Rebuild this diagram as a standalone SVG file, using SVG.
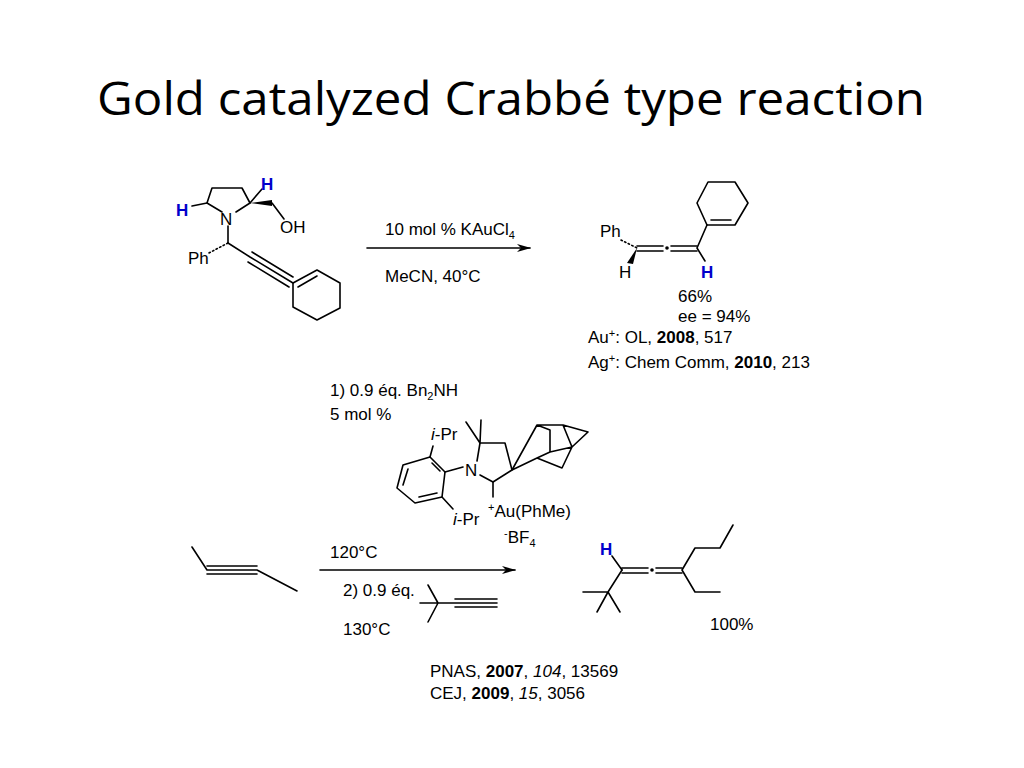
<svg xmlns="http://www.w3.org/2000/svg" width="1024" height="768" viewBox="0 0 1024 768">
<style>
text{font-family:"Liberation Sans",Arial,sans-serif;font-size:17px;fill:#000}
.t{font-family:"Open Sans","Liberation Sans",sans-serif;font-size:46px}
.b{stroke:#000;stroke-width:1.6;fill:none;stroke-linecap:round;stroke-linejoin:round}
.h{fill:#0000cc;font-weight:bold}
.s{font-size:11px}
</style>
<defs>
<marker id="ar" markerWidth="14" markerHeight="10" refX="13" refY="5" orient="auto" markerUnits="userSpaceOnUse"><path d="M0,1 L14,5 L0,9 L4,5 Z" fill="#000"/></marker>
</defs>
<rect width="1024" height="768" fill="#fff"/>
<text class="t" x="511" y="115" text-anchor="middle" textLength="828" lengthAdjust="spacingAndGlyphs">Gold catalyzed Crabbé type reaction</text>

<g id="sm1">
<path class="b" d="M222,212 L207,203 L212,188 L242,188 L250,203 L236,212"/>
<path class="b" d="M207,203 L192,206"/>
<path class="b" d="M250,203 L262,189"/>
<path d="M250,203 L272,200 L272,206 Z" fill="#000"/>
<path class="b" d="M272,203 L284,219"/>
<path class="b" d="M228,226 L228,243"/>
<path class="b" d="M228,243 L207,254" stroke-dasharray="1.5,2.5" stroke-width="3"/>
<path class="b" d="M228,243 L250,257 L293,283 M252,252 L293,277 M248,262 L289,287"/>
<path class="b" d="M293,283 L317,270 L340,283 L340,308 L317,320 L293,307 Z M298,287 L317,276"/>
<text x="220" y="225">N</text>
<text x="280" y="233">OH</text>
<text x="188" y="264">Ph</text>
<text class="h" x="176" y="216">H</text>
<text class="h" x="261" y="190">H</text>
</g>

<g id="conn">
<line class="b" x1="367" y1="248" x2="530" y2="248" marker-end="url(#ar)"/>
<line class="b" x1="320" y1="570" x2="515" y2="570" marker-end="url(#ar)"/>
</g>
<text x="385" y="235">10 mol % KAuCl<tspan class="s" dy="4">4</tspan></text>
<text x="385" y="282">MeCN, 40°C</text>

<g id="p1">
<path class="b" d="M621,240 L637,248" stroke-dasharray="1.5,2.5" stroke-width="3"/>
<path d="M637,248 L627,263 L633,264 Z" fill="#000"/>
<path class="b" d="M637,246 L663,246 M637,251 L663,251 M671,246 L697,246 M671,251 L697,251"/>
<circle cx="667" cy="248" r="1.8"/>
<path class="b" d="M697,248 L705,261 M697,248 L707,225"/>
<path class="b" d="M707,225 L697,203 L708,182 L735,182 L748,203 L735,225 Z M711,220 L731,220"/>
<text x="600" y="237">Ph</text>
<text x="619" y="278">H</text>
<text class="h" x="701" y="278">H</text>
</g>
<text x="678" y="302">66%</text>
<text x="678" y="322">ee = 94%</text>
<text x="588" y="343">Au<tspan class="s" dy="-6">+</tspan><tspan dy="6">: OL, </tspan><tspan font-weight="bold">2008</tspan>, 517</text>
<text x="588" y="368">Ag<tspan class="s" dy="-6">+</tspan><tspan dy="6">: Chem Comm, </tspan><tspan font-weight="bold">2010</tspan>, 213</text>

<text x="330" y="396">1) 0.9 éq. Bn<tspan class="s" dy="4">2</tspan><tspan dy="-4">NH</tspan></text>
<text x="330" y="420">5 mol %</text>

<g id="cat">
<path class="b" d="M445,472 L430,457 L403,465 L397,488 L415,503 L442,497 Z M408,469 L403,485 M419,497 L437,493 M432,463 L440,471"/>
<path class="b" d="M430,457 L433,446 M442,497 L453,509"/>
<path class="b" d="M445,472 L463,467 M477,461 L480,443 L505,443 L512,470 L493,482 L480,475"/>
<path class="b" d="M480,443 L466,422 M480,443 L481,420 M493,482 L493,497"/>
<path class="b" d="M512,470 L537,425 L563,425 L588,432 L572,447 L562,468 L537,458 L512,470 M537,458 L550,452 L572,447 M550,452 L550,430 M563,425 L572,447 M537,425 L550,430"/>
<text x="431" y="440"><tspan font-style="italic">i</tspan>-Pr</text>
<text x="465" y="476">N</text>
<text x="453" y="525"><tspan font-style="italic">i</tspan>-Pr</text>
<text x="488" y="517"><tspan class="s" dy="-6">+</tspan><tspan dy="6">Au(PhMe)</tspan></text>
<text x="504" y="543"><tspan class="s" dy="-6">-</tspan><tspan dy="6">BF</tspan><tspan class="s" dy="4">4</tspan></text>
</g>

<g id="sm2">
<path class="b" d="M192,547 L207,570 L257,570 L297,591 M207,566 L257,566 M207,574 L257,574"/>
</g>
<text x="330" y="558">120°C</text>
<text x="343" y="596">2) 0.9 éq.</text>
<text x="343" y="635">130°C</text>
<g id="alkyne">
<path class="b" d="M420,603 L455,603 M438,603 L428,585 M438,603 L428,622 M455,603 L497,603 M455,599 L497,599 M455,607 L497,607"/>
</g>

<g id="p2">
<path class="b" d="M622,570 L612,556 M622,568 L648,568 M622,573 L648,573 M656,568 L682,568 M656,573 L682,573"/>
<circle cx="652" cy="570" r="1.8"/>
<path class="b" d="M622,570 L608,592 L583,592 M608,592 L597,612 M608,592 L620,612"/>
<path class="b" d="M682,570 L695,548 L720,548 L733,525 M682,570 L695,592 L720,592"/>
<text class="h" x="600" y="555">H</text>
</g>
<text x="710" y="630">100%</text>
<text x="430" y="677">PNAS, <tspan font-weight="bold">2007</tspan>, <tspan font-style="italic">104</tspan>, 13569</text>
<text x="430" y="699">CEJ, <tspan font-weight="bold">2009</tspan>, <tspan font-style="italic">15</tspan>, 3056</text>
</svg>
